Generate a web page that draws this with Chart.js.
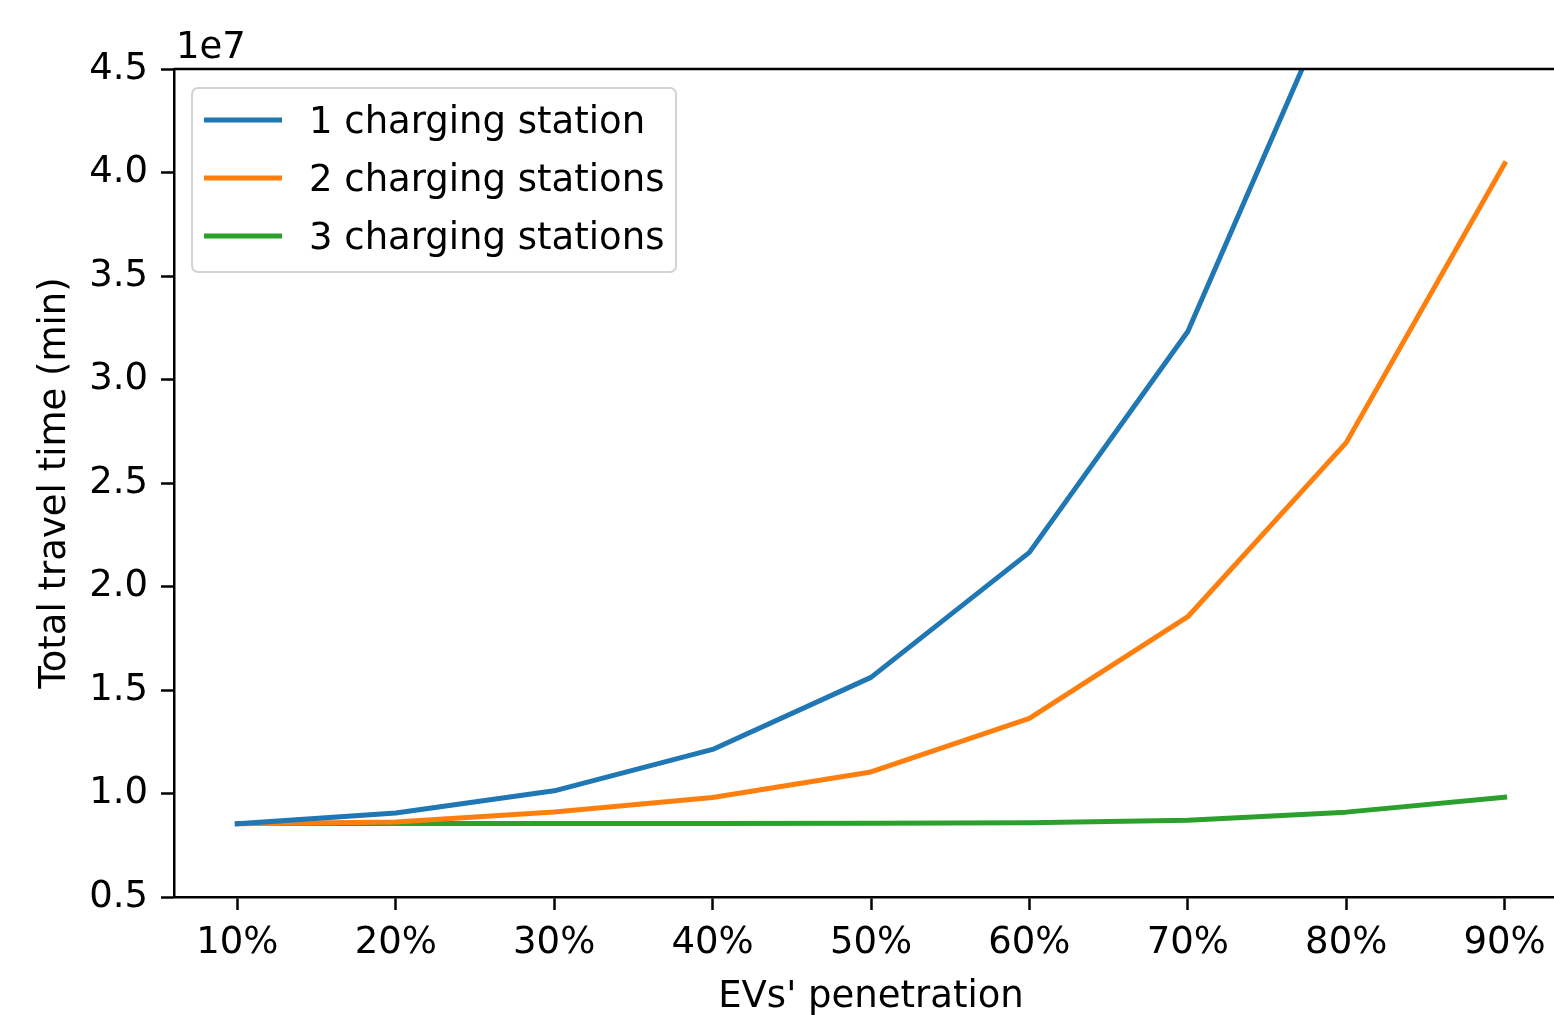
<!DOCTYPE html>
<html>
<head>
<meta charset="utf-8">
<script src="https://cdn.jsdelivr.net/npm/chart.js@4/dist/chart.umd.min.js"></script>
<style>
    html, body { margin: 0; padding: 0; background: #fff; overflow: hidden; }
    #wrap { width: 1600px; height: 1015px; }
</style>
</head>
<body>
<div id="wrap"><canvas id="myChart" width="1600" height="1015"></canvas></div>
<script>
// penetration levels (%) and total travel time (min)
let penetration = [10, 20, 30, 40, 50, 60, 70, 80, 90];
let oneStation = [8540000, 9060000, 10130000, 12130000, 15610000, 21650000, 32320000, 49900000, 76000000];
let twoStations = [8540000, 8620000, 9110000, 9810000, 11040000, 13630000, 18540000, 26950000, 40430000];
let threeStations = [8550000, 8550000, 8550000, 8550000, 8560000, 8590000, 8710000, 9100000, 9820000];
let seriesNames = ["1 charging station", "2 charging stations", "3 charging stations"];
let yTicks = [5000000, 10000000, 15000000, 20000000, 25000000, 30000000, 35000000, 40000000, 45000000];

let font = "'DejaVu Sans', sans-serif";

function points(values) {
    return values.map((v, i) => ({ x: penetration[i], y: v }));
}

// top spine + the "1e7" offset label (right spine falls outside the window)
let framePlugin = {
    id: "frame",
    afterDraw(chart) {
        let ctx = chart.ctx;
        let a = chart.chartArea;
        ctx.save();
        ctx.strokeStyle = "#000";
        ctx.lineWidth = 2.5;
        ctx.beginPath();
        ctx.moveTo(a.left, a.top);
        ctx.lineTo(a.right + 20, a.top);
        ctx.stroke();
        ctx.fillStyle = "#000";
        ctx.font = "37px " + font;
        ctx.textBaseline = "alphabetic";
        ctx.textAlign = "left";
        ctx.fillText("1e7", a.left + 2, a.top - 11);
        ctx.restore();
    }
};

// matplotlib style legend inside the axes
let legendPlugin = {
    id: "mplLegend",
    afterDraw(chart) {
        let ctx = chart.ctx;
        let a = chart.chartArea;
        let x0 = a.left + 18, y0 = a.top + 19, w = 484, h = 184;
        ctx.save();
        ctx.fillStyle = "rgba(255,255,255,0.8)";
        ctx.strokeStyle = "#d3d3d3";
        ctx.lineWidth = 2;
        ctx.beginPath();
        ctx.roundRect(x0, y0, w, h, 6);
        ctx.fill();
        ctx.stroke();
        ctx.font = "37px " + font;
        ctx.textAlign = "left";
        ctx.textBaseline = "alphabetic";
        chart.data.datasets.forEach((ds, i) => {
            let ly = y0 + 32 + i * 58;
            ctx.strokeStyle = ds.borderColor;
            ctx.lineWidth = 5;
            ctx.beginPath();
            ctx.moveTo(x0 + 12, ly);
            ctx.lineTo(x0 + 90, ly);
            ctx.stroke();
            ctx.fillStyle = "#000";
            ctx.fillText(ds.label, x0 + 117, ly + 13);
        });
        ctx.restore();
    }
};

let ctx = document.getElementById("myChart").getContext("2d");

let myChart = new Chart(ctx, {
    type: "line",
    data: {
        datasets: [
            { label: seriesNames[0], data: points(oneStation), borderColor: "#1f77b4" },
            { label: seriesNames[1], data: points(twoStations), borderColor: "#ff7f0e" },
            { label: seriesNames[2], data: points(threeStations), borderColor: "#2ca02c" },
        ],
    },
    options: {
        responsive: false,
        animation: false,
        events: [],
        layout: { padding: { top: 69, right: 32, left: 0, bottom: 0 } },
        elements: {
            line: { borderWidth: 5, tension: 0, fill: false, borderJoinStyle: "round", borderCapStyle: "square" },
            point: { radius: 0 },
        },
        scales: {
            x: {
                type: "linear",
                min: 6,
                max: 94,
                afterFit: (scale) => { scale.height = 118; },
                afterBuildTicks: (scale) => { scale.ticks = penetration.map(v => ({ value: v })); },
                grid: { display: true, drawOnChartArea: false, drawTicks: true, tickLength: 13, tickWidth: 2.5, tickColor: "#000" },
                border: { display: true, color: "#000", width: 2.5 },
                ticks: {
                    color: "#000",
                    font: { family: font, size: 37 },
                    padding: 11,
                    maxRotation: 0,
                    callback: (v) => v + "%",
                },
                title: {
                    display: true,
                    text: "EVs' penetration",
                    color: "#000",
                    font: { family: font, size: 37, lineHeight: 1.0 },
                    padding: { top: 0, bottom: -1 },
                },
            },
            y: {
                min: 5000000,
                max: 45000000,
                afterFit: (scale) => { scale.width = 174; },
                afterBuildTicks: (scale) => { scale.ticks = yTicks.map(v => ({ value: v })); },
                grid: { display: true, drawOnChartArea: false, drawTicks: true, tickLength: 13, tickWidth: 2.5, tickColor: "#000" },
                border: { display: true, color: "#000", width: 2.5 },
                ticks: {
                    color: "#000",
                    font: { family: font, size: 37 },
                    padding: 13,
                    callback: (v) => (v / 10000000).toFixed(1),
                },
                title: {
                    display: true,
                    text: "Total travel time (min)",
                    color: "#000",
                    font: { family: font, size: 37 },
                    padding: { top: 33, bottom: 0 },
                },
            },
        },
        plugins: {
            legend: { display: false },
            tooltip: { enabled: false },
        },
    },
    plugins: [framePlugin, legendPlugin],
});
</script>
</body>
</html>
